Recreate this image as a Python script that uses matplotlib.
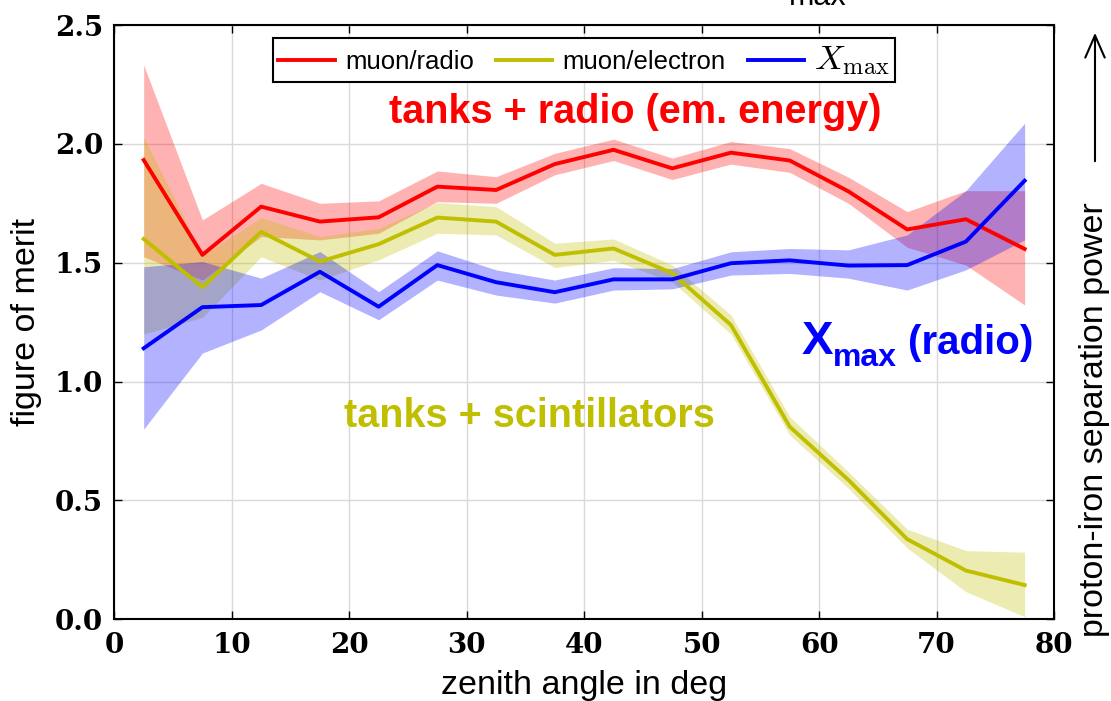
import matplotlib
matplotlib.use("Agg")
import matplotlib.pyplot as plt

plt.rcParams['font.family'] = ['Liberation Sans', 'DejaVu Sans']
plt.rcParams['mathtext.fontset'] = 'cm'

# zenith angle bin centres
zenith = [2.5, 7.5, 12.5, 17.5, 22.5, 27.5, 32.5, 37.5,
          42.5, 47.5, 52.5, 57.5, 62.5, 67.5, 72.5, 77.5]

# muon/radio (tanks + radio)
radio_mid = [1.932, 1.533, 1.736, 1.673, 1.691, 1.820, 1.806, 1.915,
             1.975, 1.897, 1.963, 1.930, 1.800, 1.640, 1.683, 1.558]
radio_hi = [2.332, 1.680, 1.834, 1.750, 1.760, 1.886, 1.862, 1.960,
            2.020, 1.940, 2.010, 1.980, 1.860, 1.715, 1.803, 1.803]
radio_lo = [1.525, 1.427, 1.610, 1.596, 1.624, 1.757, 1.750, 1.870,
            1.930, 1.850, 1.915, 1.880, 1.750, 1.565, 1.490, 1.322]

# muon/electron (tanks + scintillators)
elec_mid = [1.600, 1.397, 1.630, 1.505, 1.578, 1.690, 1.673, 1.533,
            1.560, 1.456, 1.238, 0.810, 0.586, 0.337, 0.205, 0.144]
elec_hi = [2.030, 1.530, 1.690, 1.610, 1.645, 1.753, 1.736, 1.582,
           1.600, 1.490, 1.280, 0.852, 0.620, 0.379, 0.289, 0.282]
elec_lo = [1.200, 1.270, 1.525, 1.427, 1.512, 1.624, 1.617, 1.480,
           1.510, 1.420, 1.200, 0.775, 0.551, 0.300, 0.116, 0.011]

# Xmax (radio)
xmax_mid = [1.140, 1.313, 1.322, 1.462, 1.315, 1.490, 1.418, 1.376,
            1.430, 1.430, 1.498, 1.510, 1.488, 1.490, 1.589, 1.845]
xmax_hi = [1.483, 1.505, 1.435, 1.547, 1.378, 1.550, 1.470, 1.427,
           1.479, 1.475, 1.546, 1.560, 1.554, 1.617, 1.803, 2.087]
xmax_lo = [0.800, 1.120, 1.217, 1.378, 1.260, 1.427, 1.364, 1.330,
           1.385, 1.390, 1.448, 1.455, 1.435, 1.385, 1.470, 1.596]

x_ticks = [0, 10, 20, 30, 40, 50, 60, 70, 80]
y_ticks = [0.0, 0.5, 1.0, 1.5, 2.0, 2.5]

RED, OLIVE, BLUE = '#ff0000', '#bfbf00', '#0000ff'

fig = plt.figure(figsize=(11.11, 7.01), dpi=100)
ax = fig.add_axes([0.1029, 0.1166, 0.8458, 0.8477])

ax.fill_between(zenith, radio_lo, radio_hi, color=RED, alpha=0.3, lw=0)
ax.fill_between(zenith, elec_lo, elec_hi, color=OLIVE, alpha=0.3, lw=0)
ax.fill_between(zenith, xmax_lo, xmax_hi, color=BLUE, alpha=0.3, lw=0)
ax.plot(zenith, radio_mid, color=RED, lw=2.8, label='muon/radio')
ax.plot(zenith, elec_mid, color=OLIVE, lw=2.8, label='muon/electron')
ax.plot(zenith, xmax_mid, color=BLUE, lw=2.8, label=r'$X_\mathrm{max}$')

ax.set_xlim(0, 80)
ax.set_ylim(0, 2.5)
ax.set_xticks(x_ticks)
ax.set_xticklabels([str(t) for t in x_ticks])
ax.set_yticks(y_ticks)
ax.set_yticklabels(['%.1f' % t for t in y_ticks])
for lab in ax.get_xticklabels() + ax.get_yticklabels():
    lab.set_family('DejaVu Serif')
    lab.set_fontweight('bold')
    lab.set_fontsize(20)
ax.tick_params(direction='in', length=6, width=1, top=True, right=True)
ax.tick_params(axis='x', pad=9)
ax.tick_params(axis='y', pad=8)
ax.grid(True, color='#d9d9d9', lw=1)
ax.set_axisbelow(True)
for s in ax.spines.values():
    s.set_linewidth(1.5)

ax.set_xlabel('zenith angle in deg', fontsize=24.5, labelpad=8)
ax.set_ylabel('figure of merit', fontsize=24.5, labelpad=9)

leg = ax.legend(loc='upper center', bbox_to_anchor=(0.5, 0.979), ncol=3,
                fontsize=18.5, fancybox=False, edgecolor='black',
                framealpha=1, handlelength=2.2, columnspacing=0.85,
                borderpad=0.2, handletextpad=0.4, borderaxespad=0)
leg.get_frame().set_linewidth(1.5)
leg.get_texts()[2].set_fontsize(25)

# group annotations
ax.text(0.5546, 0.835, 'tanks + radio (em. energy)', transform=ax.transAxes,
        color=RED, fontsize=28.5, fontweight='bold', ha='center', va='baseline')
ax.text(0.4413, 0.3236, 'tanks + scintillators', transform=ax.transAxes,
        color=OLIVE, fontsize=28.5, fontweight='bold', ha='center', va='baseline')
ax.text(0.7315, 0.446, 'X', transform=ax.transAxes, color=BLUE,
        fontsize=34, fontweight='bold', ha='left', va='baseline')
ax.text(0.765, 0.427, 'max', transform=ax.transAxes, color=BLUE,
        fontsize=23, fontweight='bold', ha='left', va='baseline')
ax.text(0.8445, 0.446, '(radio)', transform=ax.transAxes, color=BLUE,
        fontsize=29, fontweight='bold', ha='left', va='baseline')

# right-hand axis description with arrow
fig.text(1095 / 1111, 1 - 637 / 701, 'proton-iron separation power',
         rotation=90, fontsize=24.5, ha='center', va='bottom')
ax.annotate('', xy=(1095 / 1111, 1 - 30 / 701), xycoords='figure fraction',
            xytext=(1095 / 1111, 1 - 164 / 701), textcoords='figure fraction',
            arrowprops=dict(arrowstyle='->,head_length=0.8,head_width=0.35',
                            lw=1.5, color='black', mutation_scale=20),
            annotation_clip=False)

fig.text(818 / 1111, 1 - 5 / 701, 'max', fontsize=22, ha='center', va='baseline')

fig.savefig('out.png', dpi=100)
